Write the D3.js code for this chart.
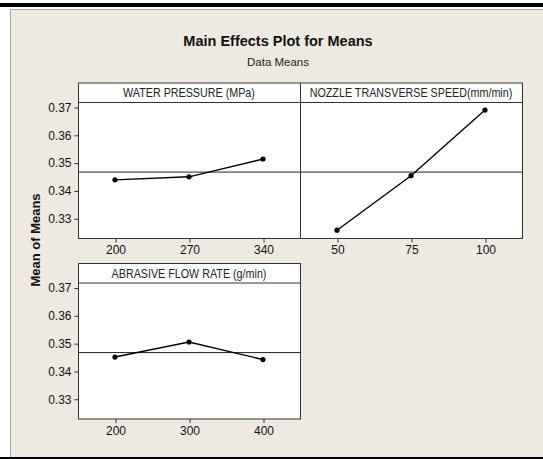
<!DOCTYPE html>
<html>
<head>
<meta charset="utf-8">
<script src="https://cdn.jsdelivr.net/npm/d3@7"></script>
<style>
  html, body { margin: 0; padding: 0; background: #fff; }
  svg { display: block; }
  .tick text { font-family: "Liberation Sans", Arial, sans-serif; font-size: 12px; fill: #111; }
  .tick line { stroke: #333; }
</style>
</head>
<body>
<script>
// factor names, level labels and the mean response at each level
const factors = ["WATER PRESSURE (MPa)", "NOZZLE TRANSVERSE SPEED(mm/min)", "ABRASIVE FLOW RATE (g/min)"];
const levels = [["200", "270", "340"], ["50", "75", "100"], ["200", "300", "400"]];
const means = [[0.3438, 0.3449, 0.3513], [0.3257, 0.3453, 0.3689], [0.3450, 0.3504, 0.3441]];
const yTicks = [0.33, 0.34, 0.35, 0.36, 0.37];
const yDomain = [0.3229, 0.3718];

const W = 543, H = 459;
const svg = d3.select("body").append("svg").attr("width", W).attr("height", H);

// page decoration: black rule on top and bottom, beige minitab frame
svg.append("rect").attr("x", 0).attr("y", 3).attr("width", W).attr("height", 4).attr("fill", "#000");
svg.append("rect").attr("x", 10).attr("y", 9).attr("width", W - 10).attr("height", 448)
  .attr("fill", "#eeeae1");
svg.append("path").attr("d", "M10.5,457V9.5H543").attr("fill", "none").attr("stroke", "#a8a59e");
svg.append("rect").attr("x", 0).attr("y", 457).attr("width", W).attr("height", 2).attr("fill", "#000");

svg.append("text").attr("x", 278).attr("y", 45.5).attr("text-anchor", "middle")
  .style("font-family", "'Liberation Sans', Arial, sans-serif").style("font-weight", "bold")
  .style("font-size", "14.5px").attr("fill", "#111").text("Main Effects Plot for Means");
svg.append("text").attr("x", 278).attr("y", 65.5).attr("text-anchor", "middle")
  .style("font-family", "'Liberation Sans', Arial, sans-serif")
  .style("font-size", "11.5px").attr("fill", "#222").text("Data Means");

svg.append("text").attr("transform", "translate(40,240) rotate(-90)").attr("text-anchor", "middle")
  .style("font-family", "'Liberation Sans', Arial, sans-serif").style("font-weight", "bold")
  .style("font-size", "13px").attr("fill", "#111").text("Mean of Means");

const left = 78, panelW = 222, headH = 19.5, plotH = 136;
const rowTop = [82.5, 263];

const grandMean = d3.mean(means.flat());

factors.forEach((name, i) => {
  const col = i % 2, row = Math.floor(i / 2);
  const x0 = left + col * panelW, top = rowTop[row], py = top + headH;

  const x = d3.scalePoint().domain(levels[i]).range([x0, x0 + panelW]).padding(0.5);
  const y = d3.scaleLinear().domain(yDomain).range([py + plotH, py]);

  const g = svg.append("g");

  g.append("rect").attr("x", x0).attr("y", top).attr("width", panelW).attr("height", headH + plotH)
    .attr("fill", "#fff");

  // tahoma-like narrow header: squeeze a regular face horizontally
  g.append("text")
    .attr("transform", `translate(${x0 + panelW / 2},${top + 14.5}) scale(0.86,1)`)
    .attr("text-anchor", "middle")
    .style("font-family", "'Liberation Sans', Arial, sans-serif")
    .style("font-size", "12.5px").attr("fill", "#222").text(name);

  // grand mean reference line
  g.append("line").attr("x1", x0).attr("x2", x0 + panelW)
    .attr("y1", y(grandMean)).attr("y2", y(grandMean))
    .attr("stroke", "#222").attr("stroke-width", 1);

  const line = d3.line().x((d, j) => x(levels[i][j])).y(d => y(d));
  g.append("path").datum(means[i]).attr("d", line)
    .attr("fill", "none").attr("stroke", "#000").attr("stroke-width", 1.4);

  g.selectAll("circle").data(means[i]).join("circle")
    .attr("cx", (d, j) => x(levels[i][j])).attr("cy", d => y(d)).attr("r", 2.6)
    .attr("fill", "#000");

  // frame and header separator
  g.append("rect").attr("x", x0 + 0.5).attr("y", top + 0.5).attr("width", panelW).attr("height", headH + plotH)
    .attr("fill", "none").attr("stroke", "#333");
  g.append("line").attr("x1", x0).attr("x2", x0 + panelW)
    .attr("y1", py + 0.5).attr("y2", py + 0.5).attr("stroke", "#333");

  const xa = g.append("g").attr("transform", `translate(0.5,${py + plotH + 0.5})`)
    .call(d3.axisBottom(x).tickSize(4).tickPadding(3));
  xa.select(".domain").remove();

  if (col === 0) {
    const ya = g.append("g").attr("transform", `translate(${x0 + 0.5},0.5)`)
      .call(d3.axisLeft(y).tickValues(yTicks).tickSize(4).tickPadding(3).tickFormat(d3.format(".2f")));
    ya.select(".domain").remove();
  }
});
</script>
</body>
</html>
